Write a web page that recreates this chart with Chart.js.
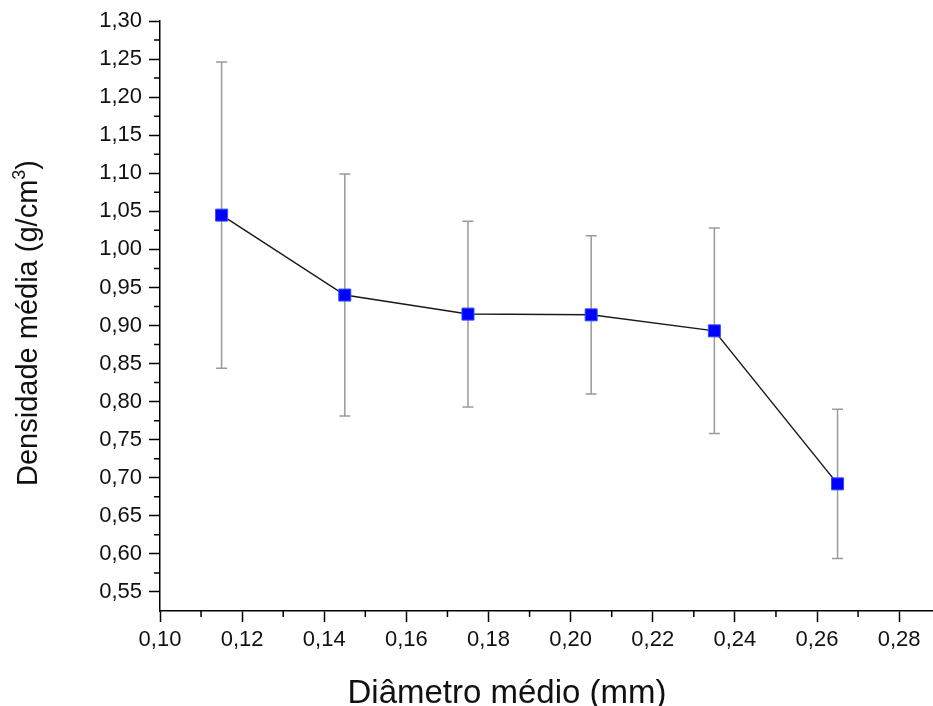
<!DOCTYPE html>
<html>
<head>
<meta charset="utf-8">
<script src="https://cdn.jsdelivr.net/npm/chart.js@4/dist/chart.umd.min.js"></script>
<style>
  body { margin: 0; background: #fff; }
  canvas { display: block; }
</style>
</head>
<body>
<canvas id="chart" width="933" height="706"></canvas>
<script>
// mean diameter (mm), mean density (g/cm3) and standard deviation
const diameters = [0.115, 0.145, 0.175, 0.205, 0.235, 0.265];
const densities = [1.045, 0.940, 0.915, 0.914, 0.893, 0.692];
const deviations = [0.201, 0.159, 0.122, 0.104, 0.135, 0.098];

const xTicks = [0.10, 0.12, 0.14, 0.16, 0.18, 0.20, 0.22, 0.24, 0.26, 0.28];
const yTicks = [0.55, 0.60, 0.65, 0.70, 0.75, 0.80, 0.85, 0.90, 0.95, 1.00,
                1.05, 1.10, 1.15, 1.20, 1.25, 1.30];

const family = 'Liberation Sans, Arial, sans-serif';
const tickFont = { family, size: 22 };
const fmt = v => v.toFixed(2).replace('.', ',');

// vertical error bars with caps, drawn under the markers
const errorBars = {
  id: 'errorBars',
  beforeDatasetsDraw(chart) {
    const { ctx, scales: { x, y } } = chart;
    ctx.save();
    ctx.strokeStyle = '#9a9a9a';
    ctx.lineWidth = 1.5;
    diameters.forEach((d, i) => {
      const px = x.getPixelForValue(d);
      const top = y.getPixelForValue(densities[i] + deviations[i]);
      const bot = y.getPixelForValue(densities[i] - deviations[i]);
      ctx.beginPath();
      ctx.moveTo(px, top); ctx.lineTo(px, bot);
      ctx.moveTo(px - 5.5, top); ctx.lineTo(px + 5.5, top);
      ctx.moveTo(px - 5.5, bot); ctx.lineTo(px + 5.5, bot);
      ctx.stroke();
    });
    ctx.restore();
  }
};

// minor ticks halfway between the labelled ones, and the two axis titles
const axisExtras = {
  id: 'axisExtras',
  afterDraw(chart) {
    const { ctx, chartArea, scales: { x, y } } = chart;
    ctx.save();
    ctx.strokeStyle = '#000';
    ctx.lineWidth = 1.5;
    ctx.beginPath();
    for (let i = 0; i < xTicks.length; i++) {
      const v = xTicks[i] + 0.01;
      if (v > x.max) break;
      const px = x.getPixelForValue(v);
      ctx.moveTo(px, chartArea.bottom); ctx.lineTo(px, chartArea.bottom + 6);
    }
    for (let i = 0; i < yTicks.length - 1; i++) {
      const py = y.getPixelForValue(yTicks[i] + 0.025);
      ctx.moveTo(chartArea.left, py); ctx.lineTo(chartArea.left - 6, py);
    }
    ctx.stroke();

    ctx.fillStyle = '#111';
    ctx.textBaseline = 'alphabetic';

    ctx.font = '33px ' + family;
    ctx.textAlign = 'center';
    ctx.fillText('Diâmetro médio (mm)', chartArea.left + 347, 703);

    // y title, rotated, with a raised "3"
    const main = 'Densidade média (g/cm';
    ctx.font = '29px ' + family;
    const wMain = ctx.measureText(main).width;
    const wClose = ctx.measureText(')').width;
    ctx.font = '18px ' + family;
    const wSup = ctx.measureText('3').width;
    const total = wMain + wSup + wClose;
    ctx.translate(37, 323);
    ctx.rotate(-Math.PI / 2);
    ctx.textAlign = 'left';
    let cx = -total / 2;
    ctx.font = '29px ' + family;
    ctx.fillText(main, cx, 0);
    cx += wMain;
    ctx.font = '18px ' + family;
    ctx.fillText('3', cx, -12);
    cx += wSup;
    ctx.font = '29px ' + family;
    ctx.fillText(')', cx, 0);
    ctx.restore();
  }
};

new Chart(document.getElementById('chart'), {
  type: 'line',
  data: {
    datasets: [{
      data: diameters.map((d, i) => ({ x: d, y: densities[i] })),
      borderColor: '#1a1a1a',
      borderWidth: 1.5,
      pointStyle: 'rect',
      pointRadius: 8.5,
      pointBackgroundColor: '#0000ff',
      pointBorderColor: '#3050ff',
      pointBorderWidth: 1,
      tension: 0
    }]
  },
  options: {
    responsive: false,
    animation: false,
    devicePixelRatio: 1,
    layout: { autoPadding: false, padding: { top: 21, right: 1, left: 0, bottom: 0 } },
    plugins: { legend: { display: false }, tooltip: { enabled: false } },
    scales: {
      x: {
        type: 'linear',
        min: 0.10,
        max: 0.288,
        afterBuildTicks: s => { s.ticks = xTicks.map(v => ({ value: v })); },
        afterFit: s => { s.height = 95; },
        ticks: { callback: v => fmt(v), color: '#111', font: tickFont, padding: 5, maxRotation: 0 },
        grid: { drawOnChartArea: false, tickLength: 11, tickWidth: 1.5, tickColor: '#000' },
        border: { color: '#000', width: 1.5 }
      },
      y: {
        type: 'linear',
        min: 0.525,
        max: 1.30,
        afterBuildTicks: s => { s.ticks = yTicks.map(v => ({ value: v })); },
        afterFit: s => { s.width = 160; },
        ticks: { callback: v => fmt(v), color: '#111', font: tickFont, padding: 7 },
        grid: { drawOnChartArea: false, tickLength: 11, tickWidth: 1.5, tickColor: '#000' },
        border: { color: '#000', width: 1.5 }
      }
    }
  },
  plugins: [errorBars, axisExtras]
});
</script>
</body>
</html>
